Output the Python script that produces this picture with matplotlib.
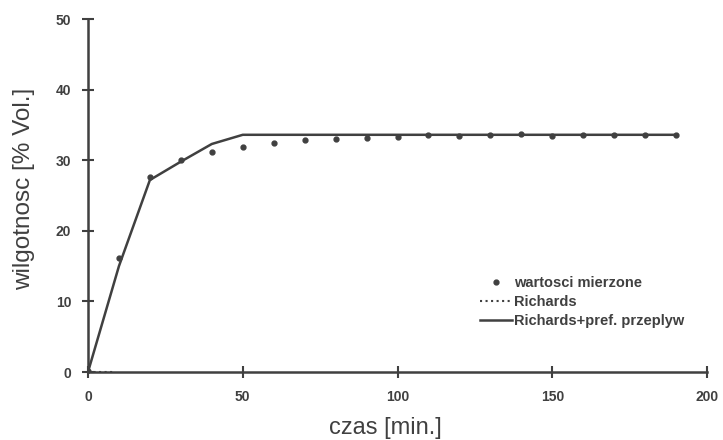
import numpy as np
import matplotlib.pyplot as plt

# measured moisture (time in min, moisture in % vol.)
czas = [0, 10, 20, 30, 40, 50, 60, 70, 80, 90, 100, 110, 120, 130, 140, 150, 160, 170, 180, 190]
zmierzone = [0.2, 16.1, 27.6, 30.0, 31.2, 31.9, 32.5, 32.9, 33.0, 33.1, 33.3, 33.6, 33.5, 33.6,
             33.7, 33.4, 33.6, 33.6, 33.6, 33.6]

# Richards model (stays at zero over the shown range)
czas_r = [0, 8.5]
richards = [0.0, 0.0]

# Richards + preferential flow
czas_p = [0, 10, 20, 30, 40, 50, 60, 190]
richards_pref = [0.0, 15.0, 27.2, 29.8, 32.3, 33.6, 33.6, 33.6]

kolor = '#404040'
plt.rcParams['font.family'] = ['Liberation Sans', 'DejaVu Sans']

fig = plt.figure(figsize=(7.23, 4.40), dpi=100)
ax = fig.add_axes([0.1217, 0.1545, 0.8563, 0.8023])

ax.plot(czas, zmierzone, 'o', color=kolor, ms=3.5, label='wartosci mierzone')
ax.plot(czas_r, richards, ':', color=kolor, lw=1.5, label='Richards')
ax.plot(czas_p, richards_pref, '-', color=kolor, lw=1.8, label='Richards+pref. przeplyw')

ax.set_xlim(0, 200)
ax.set_ylim(0, 50)
ax.set_xticks([0, 50, 100, 150, 200])
ax.set_yticks([0, 10, 20, 30, 40, 50])
for s in ['top', 'right']:
    ax.spines[s].set_visible(False)
for s in ['left', 'bottom']:
    ax.spines[s].set_color(kolor)
    ax.spines[s].set_linewidth(1.8)
ax.tick_params(direction='inout', length=8, width=1.5, color=kolor, labelcolor=kolor,
               labelsize=10)
ax.tick_params(axis='x', pad=9)
ax.tick_params(axis='y', pad=8)
for t in ax.get_xticklabels() + ax.get_yticklabels():
    t.set_fontweight('bold')

ax.set_xlabel('czas [min.]', fontsize=17, color=kolor)
ax.set_ylabel('wilgotnosc [% Vol.]', fontsize=17.5, color=kolor)
ax.xaxis.set_label_coords(0.48, -0.128)
ax.yaxis.set_label_coords(-0.086, 0.518)

leg = ax.legend(loc='upper left', bbox_to_anchor=(0.633, 0.271), frameon=False,
                borderpad=0, borderaxespad=0,
                prop={'size': 10.5, 'weight': 'bold'}, handlelength=2.2, handletextpad=0.15,
                labelspacing=0.32, labelcolor=kolor)

fig.savefig('out.png', dpi=100)
